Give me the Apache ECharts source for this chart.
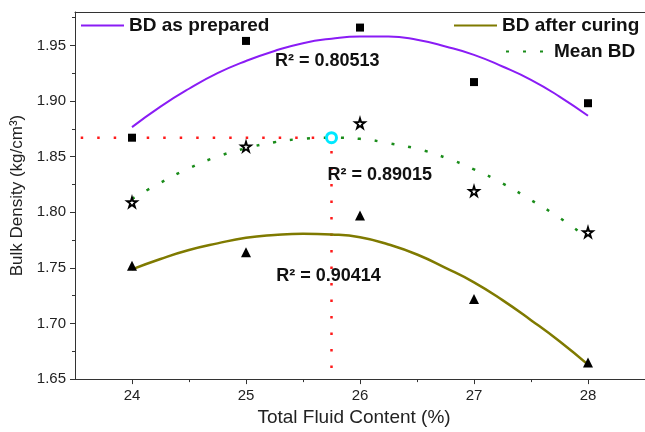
<!DOCTYPE html>
<html>
<head>
<meta charset="utf-8">
<script src="https://cdn.jsdelivr.net/npm/echarts@6/dist/echarts.min.js"></script>
<style>
  html, body { margin: 0; padding: 0; background: #fff; }
  #chart { width: 645px; height: 432px; }
</style>
</head>
<body>
<div id="chart"></div>
<script>
// Measured points
const fluidContent = [24, 25, 26, 27, 28];
const bdPrepared = [1.867, 1.954, 1.966, 1.917, 1.898];
const bdCuring = [1.752, 1.764, 1.797, 1.722, 1.665];
const bdMean = [1.809, 1.859, 1.880, 1.819, 1.782];

// Fitted trend curves
const fitX = [24, 24.25, 24.5, 24.75, 25, 25.25, 25.5, 25.75, 26, 26.25, 26.5, 26.75, 27, 27.25, 27.5, 27.75, 28];
const fitPrepared = [1.8765, 1.895, 1.911, 1.925, 1.936, 1.945, 1.952, 1.956, 1.958, 1.958, 1.955, 1.949, 1.9415, 1.931, 1.919, 1.904, 1.8867];
const fitCuring = [1.7487, 1.758, 1.766, 1.772, 1.777, 1.7795, 1.7807, 1.780, 1.7775, 1.771, 1.762, 1.750, 1.737, 1.721, 1.703, 1.684, 1.663];
const fitMean = [1.812, 1.8265, 1.8395, 1.850, 1.8575, 1.863, 1.866, 1.867, 1.866, 1.862, 1.857, 1.849, 1.8385, 1.826, 1.811, 1.795, 1.7765];

// Optimum point guide
const optimumX = 25.75;
const optimumY = 1.867;

// R² annotations
const r2Text = ['R² = 0.80513', 'R² = 0.89015', 'R² = 0.90414'];
const r2X = [25.25, 25.71, 25.26];
const r2Y = [1.936, 1.833, 1.743];

// Ticks
const xTicks = [24, 25, 26, 27, 28];
const xMinorTicks = [24.5, 25.5, 26.5, 27.5];
const yTicks = [1.65, 1.70, 1.75, 1.80, 1.85, 1.90, 1.95];
const yMinorTicks = [1.675, 1.725, 1.775, 1.825, 1.875, 1.925, 1.975];

const pairs = (xs, ys) => xs.map((x, i) => [x, ys[i]]);

const chart = echarts.init(document.getElementById('chart'));
const font = '"Liberation Sans", Arial, sans-serif';
const axisColor = '#333';

const legendBase = {
  orient: 'horizontal',
  padding: 0,
  itemWidth: 43,
  itemHeight: 14,
  itemGap: 5,
  itemStyle: { opacity: 0 },
  textStyle: { fontFamily: font, fontSize: 19, fontWeight: 'bold', color: '#111' }
};

const option = {
  animation: false,
  backgroundColor: '#fff',
  grid: { left: 75, width: 574, top: 12, bottom: 42, show: false },
  legend: [
    Object.assign({}, legendBase, { left: 80, top: 16, data: ['BD as prepared'] }),
    Object.assign({}, legendBase, { left: 453, top: 16, data: ['BD after curing'] }),
    Object.assign({}, legendBase, { left: 505, top: 42, data: ['Mean BD'] })
  ],
  xAxis: [
    {
      type: 'value', min: 23.5, max: 28.5,
      name: 'Total Fluid Content (%)',
      nameLocation: 'middle', nameGap: 21,
      nameTextStyle: { fontFamily: font, fontSize: 19, color: '#222', padding: [0, 12, 0, 0] },
      axisLine: { lineStyle: { color: axisColor, width: 1 } },
      axisTick: { customValues: xTicks, length: 5, lineStyle: { color: axisColor } },
      axisLabel: { customValues: xTicks, fontFamily: font, fontSize: 15, color: '#222', margin: 9 },
      splitLine: { show: false }
    },
    {
      type: 'value', min: 23.5, max: 28.5, position: 'bottom',
      axisLine: { show: false },
      axisTick: { customValues: xMinorTicks, length: 3, lineStyle: { color: axisColor } },
      axisLabel: { show: false },
      splitLine: { show: false }
    },
    {
      type: 'value', min: 23.5, max: 28.5, position: 'top',
      axisLine: { show: true, lineStyle: { color: axisColor, width: 1 } },
      axisTick: { show: false },
      axisLabel: { show: false },
      splitLine: { show: false }
    }
  ],
  yAxis: [
    {
      type: 'value', min: 1.65, max: 1.98,
      name: 'Bulk Density (kg/cm³)',
      nameLocation: 'middle', nameGap: 47,
      nameTextStyle: { fontFamily: font, fontSize: 17, color: '#222' },
      axisLine: { show: true, lineStyle: { color: axisColor, width: 1 } },
      axisTick: { show: true, customValues: yTicks, length: 5, lineStyle: { color: axisColor } },
      axisLabel: {
        customValues: yTicks, fontFamily: font, fontSize: 15, color: '#222', margin: 9,
        formatter: v => v.toFixed(2)
      },
      splitLine: { show: false }
    },
    {
      type: 'value', min: 1.65, max: 1.98, position: 'left',
      axisLine: { show: false },
      axisTick: { show: true, customValues: yMinorTicks, length: 3, lineStyle: { color: axisColor } },
      axisLabel: { show: false },
      splitLine: { show: false }
    }
  ],
  series: [
    {
      name: 'Optimum', type: 'line', symbol: 'none', z: 1,
      data: [[23.55, optimumY], [optimumX, optimumY], [optimumX, 1.65]],
      lineStyle: { color: '#ff1a1a', width: 2.5, type: [2.5, 14] }
    },
    {
      name: 'BD as prepared', type: 'line', symbol: 'none', smooth: true, z: 2,
      data: pairs(fitX, fitPrepared),
      lineStyle: { color: '#8a1cf5', width: 2 }, itemStyle: { color: '#8a1cf5' }
    },
    {
      name: 'BD after curing', type: 'line', symbol: 'none', smooth: true, z: 2,
      data: pairs(fitX, fitCuring),
      lineStyle: { color: '#7f7a00', width: 2.5 }, itemStyle: { color: '#7f7a00' }
    },
    {
      name: 'Mean BD', type: 'line', symbol: 'none', smooth: true, z: 2,
      data: pairs(fitX, fitMean),
      lineStyle: { color: '#1a8c1a', width: 2.5, type: [3, 14] }, itemStyle: { color: '#1a8c1a' }
    },
    {
      name: 'Prepared points', type: 'scatter', symbol: 'rect', symbolSize: 8, z: 5,
      data: pairs(fluidContent, bdPrepared), itemStyle: { color: '#000', opacity: 1 }
    },
    {
      name: 'Curing points', type: 'scatter', symbol: 'triangle', symbolSize: 10, z: 5,
      data: pairs(fluidContent, bdCuring), itemStyle: { color: '#000', opacity: 1 }
    },
    {
      name: 'Mean points', type: 'scatter',
      symbol: 'path://M50,0 L61,35 L98,35 L68,57 L79,91 L50,70 L21,91 L32,57 L2,35 L39,35 Z',
      symbolSize: 10, z: 5,
      data: pairs(fluidContent, bdMean),
      itemStyle: { color: '#fff', borderColor: '#000', borderWidth: 1.8, opacity: 1 }
    },
    {
      name: 'Optimum point', type: 'scatter', symbol: 'circle', symbolSize: 10, z: 6,
      data: [[optimumX, optimumY]],
      itemStyle: { color: '#fff', borderColor: '#00e8ff', borderWidth: 3, opacity: 1 }
    },
    {
      name: 'R2', type: 'scatter', symbolSize: 1, z: 7, silent: true,
      data: r2Text.map((t, i) => ({ value: [r2X[i], r2Y[i]], name: t })),
      itemStyle: { color: 'rgba(0,0,0,0)', opacity: 1 },
      label: {
        show: true, position: 'right', distance: 0,
        formatter: p => p.name,
        fontFamily: font, fontSize: 18, fontWeight: 'bold', color: '#111'
      }
    }
  ]
};

chart.setOption(option);
</script>
</body>
</html>
